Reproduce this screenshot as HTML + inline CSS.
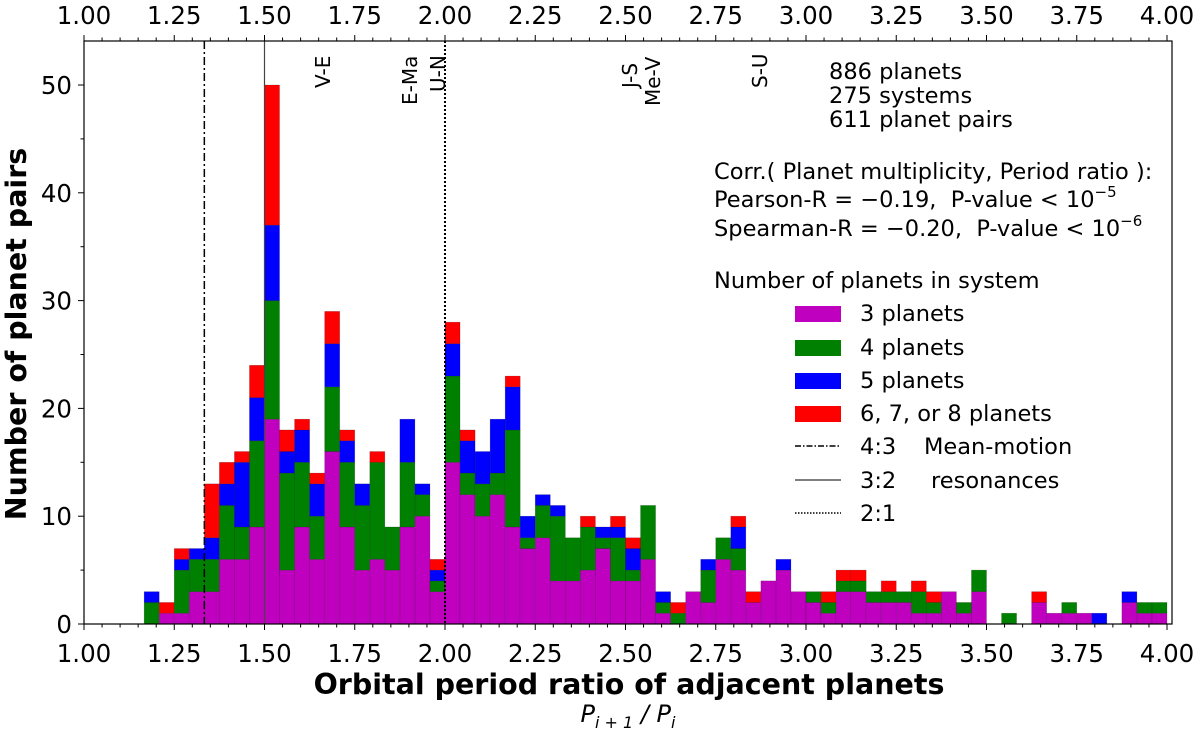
<!DOCTYPE html>
<html><head><meta charset="utf-8"><style>
body{margin:0;background:#fff}
svg{display:block;font-family:"DejaVu Sans","Liberation Sans",sans-serif}
</style></head><body>
<svg id="chart" width="1200" height="731" viewBox="0 0 1200 731" xmlns="http://www.w3.org/2000/svg">
<g id="bars"></g>
<g id="axes"></g>
<g font-size="20" fill="#000">
<text transform="translate(330,88) rotate(-90)">V-E</text>
<text transform="translate(417,105) rotate(-90)">E-Ma</text>
<text transform="translate(445,92) rotate(-90)">U-N</text>
<text transform="translate(637,88) rotate(-90)">J-S</text>
<text transform="translate(660,106) rotate(-90)">Me-V</text>
<text transform="translate(767,88) rotate(-90)">S-U</text>
</g>
<g font-size="22.5" fill="#000">
<text x="829" y="79">886 planets</text>
<text x="829" y="103">275 systems</text>
<text x="829" y="127">611 planet pairs</text>
<text x="714" y="179">Corr.( Planet multiplicity, Period ratio ):</text>
<text x="714" y="207">Pearson-R = −0.19,&#160; P-value &lt; 10<tspan dy="-10" font-size="15">−5</tspan></text>
<text x="714" y="236">Spearman-R = −0.20,&#160; P-value &lt; 10<tspan dy="-10" font-size="15">−6</tspan></text>
<text x="714" y="288">Number of planets in system</text>
</g>
<g font-size="22.5">
<rect x="795" y="306" width="46" height="16" fill="#bf00bf"/>
<text x="860" y="321">3 planets</text>
<rect x="795" y="340" width="46" height="16" fill="#008000"/>
<text x="860" y="355">4 planets</text>
<rect x="795" y="373" width="46" height="16" fill="#0000ff"/>
<text x="860" y="388">5 planets</text>
<rect x="795" y="406" width="46" height="16" fill="#ff0000"/>
<text x="860" y="421">6, 7, or 8 planets</text>
<line x1="795" x2="841" y1="446" y2="446" stroke="#000" stroke-width="1.5" stroke-dasharray="6,2,1.5,2"/>
<text x="860" y="454">4:3</text>
<text x="924" y="454">Mean-motion</text>
<line x1="795" x2="841" y1="480" y2="480" stroke="#555" stroke-width="1.5"/>
<text x="860" y="488">3:2</text>
<text x="931" y="488">resonances</text>
<line x1="795" x2="841" y1="513" y2="513" stroke="#000" stroke-width="1.5" stroke-dasharray="1.5,1.5"/>
<text x="860" y="521">2:1</text>
</g>
<text x="629" y="694" font-size="28.5" font-weight="bold" text-anchor="middle">Orbital period ratio of adjacent planets</text>
<text x="628" y="722" font-size="24" font-style="italic" text-anchor="middle">P<tspan font-size="16" dy="6">i + 1</tspan><tspan dy="-6"> / P</tspan><tspan font-size="16" dy="6">i</tspan></text>
<text transform="translate(26,334) rotate(-90)" font-size="28.5" font-weight="bold" text-anchor="middle">Number of planet pairs</text>
</svg>
<script>
const binStart = 1.0;
const binWidth = 1/24;
const threePlanets = [0,0,0,0,0,1,1,3,3,6,6,9,19,5,9,6,16,9,5,6,5,9,10,3,15,12,10,12,9,7,8,4,4,5,7,4,4,6,1,0,3,2,6,5,2,4,5,3,2,1,3,3,2,2,2,1,1,3,1,3,0,0,0,2,1,1,1,0,0,2,1,1];
const fourPlanets = [0,0,0,0,2,0,4,3,3,5,3,8,11,9,6,4,6,6,6,9,4,6,2,1,8,2,3,2,9,1,3,6,4,4,1,4,1,5,1,1,0,3,2,2,0,0,0,0,1,1,1,1,1,1,1,2,1,0,1,2,0,1,0,0,0,1,0,0,0,0,1,1];
const fivePlanets = [0,0,0,0,1,0,1,1,2,2,6,4,7,2,3,3,4,2,2,0,0,4,1,1,3,3,3,5,4,2,1,1,0,0,1,1,2,0,1,0,0,1,0,2,0,0,1,0,0,0,0,0,0,0,0,0,0,0,0,0,0,0,0,0,0,0,0,1,0,1,0,0];
const sixPlusPlanets = [0,0,0,0,0,1,1,0,5,2,1,3,13,2,1,1,3,1,0,1,0,0,0,1,2,1,0,0,1,0,0,0,0,1,0,1,1,0,0,1,0,0,0,1,1,0,0,0,0,1,1,1,0,1,0,1,1,0,0,0,0,0,0,1,0,0,0,0,0,0,0,0];
const xTicks = [1.00,1.25,1.50,1.75,2.00,2.25,2.50,2.75,3.00,3.25,3.50,3.75,4.00];
const yTicks = [0,10,20,30,40,50];
const resonances = [4/3, 3/2, 2/1];

const NS='http://www.w3.org/2000/svg';
const L=84,R=1172,T=41,B=624;
const X=v=>84+(v-1)*361;
const Y=v=>624-v*10.78;
function mk(tag,attrs,parent){const e=document.createElementNS(NS,tag);for(const k in attrs)e.setAttribute(k,attrs[k]);parent.appendChild(e);return e;}
const bars=document.getElementById('bars');
const axes=document.getElementById('axes');
const series=[[threePlanets,'#bf00bf','3'],[fourPlanets,'#008000','4'],[fivePlanets,'#0000ff','5'],[sixPlusPlanets,'#ff0000','6plus']];
for(let i=0;i<threePlanets.length;i++){
  let base=0;
  const x0=X(binStart+i*binWidth),x1=X(binStart+(i+1)*binWidth);
  for(const [arr,col,nm] of series){
    const v=arr[i];
    if(v>0){
      const r=mk('rect',{x:x0,y:Y(base+v),width:x1-x0,height:Y(base)-Y(base+v),fill:col,stroke:'rgba(0,0,0,0.25)','stroke-width':0.6},bars);
      
      
    }
    base+=v;
  }
}
const styles=[{stroke:'#000','stroke-dasharray':'8,3,2,3','stroke-width':1.5},{stroke:'#444','stroke-width':1.2},{stroke:'#000','stroke-dasharray':'2,2','stroke-width':2}];
const resNames=['resonance-line-4-3','resonance-line-3-2','resonance-line-2-1'];
resonances.forEach((r,i)=>{
  const ln=mk('line',Object.assign({x1:X(r),x2:X(r),y1:T,y2:B},styles[i]),axes);
  
  
});
const frame=mk('rect',{x:L,y:T,width:R-L,height:B-T,fill:'none',stroke:'#000','stroke-width':1.2},axes);


for(let k=0;k<=60;k++){
  const v=1+k*0.05,x=X(v),major=(k%5===0);
  const len=major?6:3.5;
  mk('line',{x1:x,x2:x,y1:B,y2:B+len,stroke:'#000','stroke-width':1},axes);
  mk('line',{x1:x,x2:x,y1:T,y2:T-len,stroke:'#000','stroke-width':1},axes);
}
xTicks.forEach(v=>{
  const t=mk('text',{x:X(v),y:662,'font-size':24.5,'text-anchor':'middle'},axes);
  t.textContent=v.toFixed(2);
  
  
  const t2=mk('text',{x:X(v),y:24,'font-size':24.5,'text-anchor':'middle'},axes);
  t2.textContent=v.toFixed(2);
  
  
});
for(let v=0;v<=50;v+=5){
  const y=Y(v),len=(v%10===0)?6:3.5;
  mk('line',{x1:L-len,x2:L,y1:y,y2:y,stroke:'#000','stroke-width':1},axes);
}
yTicks.forEach(v=>{
  const t=mk('text',{x:72,y:Y(v)+9,'font-size':24.5,'text-anchor':'end'},axes);
  t.textContent=String(v);
  
  
});
</script>
</body></html>
